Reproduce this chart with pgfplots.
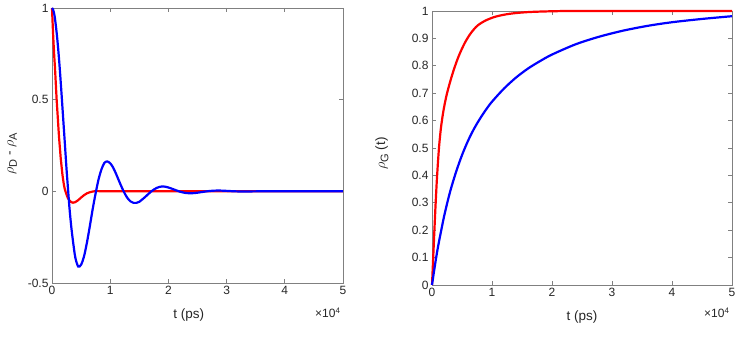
\documentclass[border=0pt]{standalone}
\usepackage{fontspec}
\setmainfont{Liberation Sans}
\usepackage{pgfplots}
\pgfplotsset{compat=1.18}
\definecolor{axgray}{HTML}{808080}
\definecolor{txtgray}{HTML}{262626}
\definecolor{mred}{HTML}{FF0000}
\definecolor{mblue}{HTML}{0000FF}

\newcommand{\sub}[1]{\raisebox{-0.45ex}{\fontsize{11}{12}\selectfont #1}}

\pgfplotsset{
  mstyle/.style={
    scale only axis, anchor=south west, clip=false,
    axis line style={draw=axgray, line width=0.6pt},
    tick style={draw=axgray, line width=0.6pt},
    major tick length=4pt, tick align=inside,
    xmin=0, xmax=50000, scaled x ticks=false,
    xtick={0,10000,20000,30000,40000,50000}, xticklabels={0,1,2,3,4,5},
    tick label style={font=\fontsize{12}{14}\selectfont, text=txtgray},
    label style={font=\fontsize{13.5}{15}\selectfont, text=txtgray},
    every axis plot/.append style={line width=2.2pt, no markers, smooth, tension=0.5},
  },
}

% rho_D - rho_A, t in ps
\pgfplotstableread{
t     red     blue
0     1       1
200   0.85    0.99
400   0.73    0.965
500   0.68    0.945
600   0.62    0.92
800   0.50    0.865
1000  0.40    0.80
1200  0.30    0.725
1400  0.22    0.64
1500  0.18    0.595
1600  0.15    0.55
1800  0.09    0.455
2000  0.045   0.36
2200  0.012   0.265
2500  -0.018  0.12
2700  -0.035  0.035
3000  -0.05   -0.09
3300  -0.059  -0.19
3600  -0.062  -0.27
4000  -0.059  -0.36
4500  -0.048  -0.41
5000  -0.034  -0.40
5500  -0.021  -0.355
6000  -0.011  -0.28
6500  -0.005  -0.19
7000  -0.001  -0.095
7500  0.001   -0.01
8000  0.001   0.065
8500  0.0008  0.12
9000  0.0005  0.155
9500  0.0002  0.163
10000 0       0.153
10500 0       0.13
11000 0       0.096
11500 0       0.058
12000 0       0.021
12500 0       -0.012
13000 0       -0.038
13500 0       -0.055
14000 0       -0.063
14500 0       -0.063
15000 0       -0.057
16000 0       -0.031
17000 0       -0.002
18000 0       0.019
19000 0       0.027
20000 0       0.021
21000 0       0.0095
22000 0       -0.002
23000 0       -0.009
24000 0       -0.0105
25000 0       -0.0075
26000 0       -0.0026
27000 0       0.0016
28000 0       0.0039
29000 0       0.004
30000 0       0.0025
31000 0       0.0007
32000 0       -0.0005
34000 0       -0.0008
36000 0       0
50000 0       0
}\diff

% rho_G(t)
\pgfplotstableread{
t     y
0     0
200   0.1
400   0.2
600   0.295
800   0.38
1000  0.45
1200  0.51
1500  0.575
1900  0.635
2400  0.69
3000  0.74
3700  0.79
4500  0.838
5500  0.885
6500  0.92
7600  0.947
9000  0.966
10700 0.98
13000 0.99
16000 0.996
20000 0.999
25000 1
50000 1
}\gred

\pgfplotstableread{
t     y
0     0
500   0.073
1000  0.139
2000  0.249
3000  0.339
4000  0.412
5000  0.474
6000  0.526
7000  0.570
8000  0.607
9000  0.640
10000 0.669
12000 0.717
14000 0.757
16000 0.790
18000 0.817
20000 0.841
24000 0.879
28000 0.907
32000 0.929
36000 0.946
40000 0.959
45000 0.971
50000 0.981
}\gblue

\begin{document}
\begin{tikzpicture}
\path[use as bounding box] (0,0) rectangle (747pt,337pt);

\begin{axis}[mstyle, at={(52pt,54pt)}, width=291pt, height=275pt,
  ymin=-0.5, ymax=1, ytick={-0.5,0,0.5,1}, yticklabels={-0.5,0,0.5,1},
  xlabel={t (ps)}, ylabel={$\rho$\sub{D} - $\rho$\sub{A}},
  xlabel style={at={(axis description cs:0.47,-0.118)}, anchor=center},
  ylabel style={at={(axis description cs:-0.137,0.469)}, anchor=center}]
\addplot[color=mred] table[x=t, y=red] {\diff};
\addplot[color=mblue] table[x=t, y=blue] {\diff};
\end{axis}
\node[anchor=east, text=txtgray, font=\fontsize{12}{14}\selectfont] at (344pt,24.5pt) {×10\textsuperscript{4}};

\begin{axis}[mstyle, at={(432pt,52pt)}, width=300pt, height=274pt,
  ymin=0, ymax=1, ytick={0,0.1,0.2,0.3,0.4,0.5,0.6,0.7,0.8,0.9,1},
  yticklabels={0,0.1,0.2,0.3,0.4,0.5,0.6,0.7,0.8,0.9,1},
  xlabel={t (ps)}, ylabel={$\rho$\sub{G} (t)},
  xlabel style={at={(axis description cs:0.5,-0.117)}, anchor=center},
  ylabel style={at={(axis description cs:-0.167,0.48)}, anchor=center}]
\addplot[color=mred] table[x=t, y=y] {\gred};
\addplot[color=mblue] table[x=t, y=y] {\gblue};
\end{axis}
\node[anchor=east, text=txtgray, font=\fontsize{12}{14}\selectfont] at (733pt,24pt) {×10\textsuperscript{4}};
\end{tikzpicture}
\end{document}
